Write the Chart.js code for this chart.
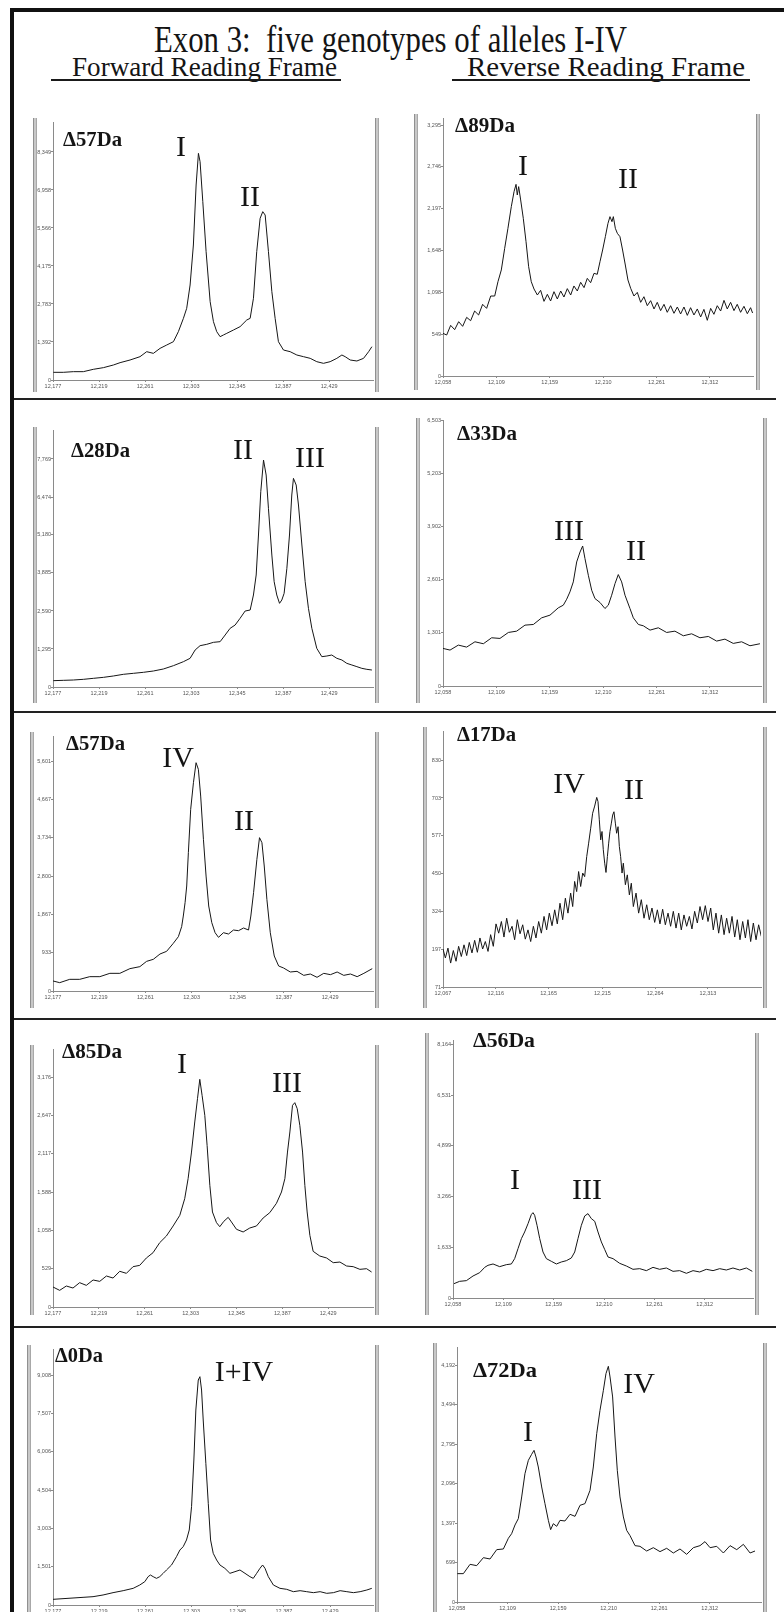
<!DOCTYPE html>
<html><head><meta charset="utf-8">
<script src="https://cdn.jsdelivr.net/npm/chart.js@4/dist/chart.umd.min.js"></script>
<style>
html,body{margin:0;padding:0;background:#fff;}
body{width:784px;height:1612px;position:relative;overflow:hidden;font-family:"Liberation Serif","Times New Roman",serif;}
#fig{position:absolute;left:0;top:0;width:784px;height:1612px;overflow:hidden;}
.txt{position:absolute;white-space:pre;line-height:1;color:#141414;transform-origin:0 0;}
.bar{position:absolute;width:2px;background:#c8c8c8;border-left:1px solid #909090;border-right:1px solid #a8a8a8;}
.sep{position:absolute;height:2px;background:#222;}
.uline{position:absolute;height:2px;background:#1a1a1a;}
canvas{position:absolute;}
#frame{position:absolute;left:10px;top:8px;width:800px;height:1640px;border:4px solid #111;box-sizing:border-box;}
</style></head><body><div id="fig"><div id="frame"></div></div>
<script>
// ---------- tick values / labels ----------
const xTicksA = [12177,12219,12261,12303,12345,12387,12429];
const xLabelsA = ["12,177","12,219","12,261","12,303","12,345","12,387","12,429"];
const xTicksB = [12058,12108.8,12159.6,12210.4,12261.2,12312];
const xLabelsB = ["12,058","12,109","12,159","12,210","12,261","12,312"];
const xTicksC = [12067,12116,12165,12215,12264,12313];
const xLabelsC = ["12,067","12,116","12,165","12,215","12,264","12,313"];

const p1YTicks = [0,1391.5,2783,4174.5,5566,6957.5,8349];
const p1YLabels = ["0","1,392","2,783","4,175","5,566","6,958","8,349"];
const p2YTicks = [0,549,1098,1648,2197,2746,3295];
const p2YLabels = ["0","549","1,098","1,648","2,197","2,746","3,295"];
const p3YTicks = [0,1295,2590,3885,5180,6474,7769];
const p3YLabels = ["0","1,295","2,590","3,885","5,180","6,474","7,769"];
const p4YTicks = [0,1301,2601,3902,5203,6503];
const p4YLabels = ["0","1,301","2,601","3,902","5,203","6,503"];
const p5YTicks = [0,933,1867,2800,3734,4667,5601];
const p5YLabels = ["0","933","1,867","2,800","3,734","4,667","5,601"];
const p6YTicks = [71,197,324,450,577,703,830];
const p6YLabels = ["71","197","324","450","577","703","830"];
const p7YTicks = [0,529,1058,1588,2117,2647,3176];
const p7YLabels = ["0","529","1,058","1,588","2,117","2,647","3,176"];
const p8YTicks = [0,1633,3266,4899,6531,8164];
const p8YLabels = ["0","1,633","3,266","4,899","6,531","8,164"];
const p9YTicks = [0,1501,3003,4504,6006,7507,9008];
const p9YLabels = ["0","1,501","3,003","4,504","6,006","7,507","9,008"];
const p10YTicks = [0,699,1397,2096,2795,3494,4192];
const p10YLabels = ["0","699","1,397","2,096","2,795","3,494","4,192"];

// ---------- spectra (mass in Da, intensity) ----------
const p1Mass = [12177.3,12186.4,12195.6,12204.7,12213.8,12223.0,12232.1,12238.2,12247.3,12256.4,12262.5,12268.6,12274.7,12280.8,12286.9,12291.4,12296.0,12299.0,12302.1,12305.1,12307.6,12309.7,12311.2,12313.7,12316.7,12320.4,12323.4,12326.4,12329.5,12332.5,12335.6,12341.7,12347.7,12353.8,12356.9,12359.9,12362.9,12366.0,12368.4,12370.6,12373.6,12376.7,12379.7,12382.7,12387.3,12393.4,12399.5,12405.6,12411.7,12417.7,12423.8,12429.9,12436.0,12440.6,12443.6,12448.2,12454.3,12460.4,12465.0,12468.0];
const p1Int = [281,281,305,305,391,452,549,635,732,854,1037,976,1159,1282,1404,1770,2258,2624,3478,4943,7140,8299,7994,6530,4699,2868,2136,1770,1587,1648,1709,1831,1953,2197,2258,2990,4699,5919,6164,6041,4699,3234,2258,1404,1098,1037,915,854,793,671,610,671,793,915,854,732,696,793,1037,1220];

const p2Mass = [12058.0,12061.5,12065.3,12069.1,12072.9,12076.7,12080.5,12084.3,12088.1,12091.9,12095.7,12099.5,12103.4,12107.2,12110.3,12113.5,12116.7,12119.8,12123.0,12125.6,12127.5,12128.7,12130.0,12131.9,12134.4,12137.0,12139.5,12142.0,12144.6,12147.8,12150.9,12154.1,12157.3,12160.4,12163.6,12166.8,12170.0,12173.1,12176.3,12179.5,12182.6,12185.8,12189.0,12192.2,12195.3,12198.5,12201.7,12204.8,12207.4,12209.9,12212.5,12215.0,12216.9,12218.8,12220.1,12222.0,12223.9,12226.4,12228.9,12231.5,12234.0,12236.6,12239.7,12242.9,12246.1,12249.2,12252.4,12255.6,12258.8,12261.9,12265.1,12268.3,12271.4,12274.6,12277.8,12281.0,12284.1,12287.3,12290.5,12293.6,12296.8,12300.0,12303.2,12306.3,12309.5,12312.7,12315.8,12319.0,12322.2,12325.4,12328.5,12331.7,12334.9,12338.0,12341.2,12344.4,12347.6,12350.7,12352.6];
const p2Int = [560,538,665,608,713,652,770,726,853,801,941,888,1050,1050,1238,1392,1676,1939,2223,2420,2516,2376,2486,2311,2070,1764,1435,1238,1142,1063,1125,980,1072,985,1107,1011,1116,1037,1147,1063,1182,1116,1230,1160,1282,1225,1348,1335,1501,1654,1829,2004,2092,2026,2092,1939,1873,1829,1654,1457,1260,1151,1050,1098,967,1041,923,989,880,967,858,941,836,923,823,906,814,906,796,897,801,880,775,875,731,888,810,923,853,993,880,967,858,941,836,915,818,897,827];

const p3Mass = [12177.3,12186.4,12195.6,12204.7,12213.8,12223.0,12232.1,12241.2,12250.4,12259.5,12268.6,12277.7,12286.9,12296.0,12302.1,12306.7,12311.2,12317.3,12323.4,12329.5,12334.1,12338.6,12343.2,12347.7,12352.3,12356.9,12359.9,12362.4,12364.5,12366.6,12369.1,12371.5,12373.6,12376.7,12378.8,12381.2,12383.7,12385.8,12387.9,12390.4,12392.8,12394.9,12396.4,12398.9,12401.0,12404.1,12407.1,12410.1,12413.2,12417.7,12422.3,12426.9,12431.4,12436.0,12440.6,12445.1,12449.7,12454.3,12458.8,12463.4,12468.0];
const p3Int = [216,227,238,261,295,329,375,432,466,500,545,613,727,863,977,1261,1408,1454,1522,1545,1772,1999,2112,2340,2589,2623,3135,3816,5179,6655,7734,7223,6087,4497,3589,3135,2851,2964,3191,4043,5179,6542,7109,6882,6201,4838,3589,2680,1999,1317,1033,1056,1090,977,920,806,750,693,636,602,579];

const p4Mass = [12058.0,12064.7,12072.6,12080.5,12088.4,12096.4,12104.3,12112.2,12120.2,12128.1,12136.0,12144.0,12151.9,12159.8,12167.7,12172.5,12175.7,12178.8,12182.0,12185.2,12188.4,12190.9,12193.1,12196.3,12199.5,12202.6,12207.4,12212.1,12215.3,12218.5,12221.7,12224.8,12228.0,12231.2,12235.9,12239.1,12243.9,12248.6,12255.0,12262.9,12270.8,12278.7,12286.7,12294.6,12302.5,12310.5,12318.4,12326.3,12334.2,12342.2,12350.1,12359.6];
const p4Int = [919,878,1000,951,1081,1033,1179,1163,1309,1341,1488,1504,1667,1732,1911,1976,2122,2301,2545,3033,3276,3423,3114,2707,2341,2138,2041,1894,1976,2219,2504,2724,2545,2219,1894,1667,1504,1472,1366,1423,1309,1341,1228,1276,1179,1211,1098,1146,1041,1081,984,1033];

const p5Mass = [12177.0,12183.1,12192.2,12201.3,12210.4,12219.6,12228.7,12237.8,12246.9,12256.0,12262.1,12268.2,12274.3,12280.3,12286.4,12291.0,12294.0,12295.5,12297.1,12298.6,12300.1,12302.2,12304.7,12307.1,12309.2,12311.3,12313.8,12316.2,12318.6,12321.4,12324.4,12327.5,12332.0,12336.6,12341.1,12345.7,12350.3,12354.8,12356.9,12359.4,12362.4,12364.8,12367.0,12369.1,12371.5,12374.6,12378.2,12382.2,12386.7,12392.8,12398.9,12405.0,12411.0,12417.1,12423.2,12429.3,12435.4,12441.4,12447.5,12453.6,12459.7,12467.3];
const p5Int = [244,203,284,284,349,349,430,430,544,593,722,771,901,966,1161,1323,1567,1826,2151,2557,3369,4424,5073,5560,5398,4748,3693,2800,2070,1664,1420,1307,1420,1388,1485,1469,1534,1485,1826,2395,3206,3734,3612,3044,2232,1420,852,609,560,463,479,381,414,333,430,398,463,381,414,349,430,544];

const p6Mass = [12067.0,12069.2,12071.6,12074.1,12076.6,12079.1,12081.5,12084.0,12086.5,12089.0,12091.4,12093.9,12096.4,12098.9,12101.3,12103.8,12106.3,12108.8,12111.2,12113.7,12116.2,12118.7,12121.2,12123.6,12126.1,12128.6,12131.1,12133.5,12136.0,12138.5,12141.0,12143.4,12145.9,12148.4,12150.9,12153.3,12155.8,12158.3,12160.8,12163.2,12165.7,12168.2,12170.7,12173.1,12175.6,12178.1,12180.6,12183.0,12185.5,12187.4,12189.2,12191.1,12192.9,12194.8,12196.7,12198.5,12200.4,12202.2,12204.1,12205.9,12207.8,12209.7,12210.9,12212.1,12213.4,12214.6,12215.8,12217.1,12218.3,12219.6,12220.8,12222.0,12223.3,12224.5,12225.7,12227.0,12228.2,12229.5,12230.7,12231.9,12233.2,12234.4,12236.3,12238.1,12240.0,12241.8,12243.7,12246.2,12248.6,12251.1,12253.6,12256.1,12258.5,12261.0,12263.5,12266.0,12268.4,12270.9,12273.4,12275.9,12278.3,12280.8,12283.3,12285.8,12288.2,12290.7,12293.2,12295.7,12298.1,12300.6,12303.1,12305.6,12308.0,12310.5,12313.0,12315.5,12317.9,12320.4,12322.9,12325.4,12327.9,12330.3,12332.8,12335.3,12337.8,12340.2,12342.7,12345.2,12347.7,12350.1,12352.6,12355.1,12357.6,12360.0,12362.5];
const p6Int = [198,168,201,151,193,157,207,173,212,176,220,185,227,187,235,198,223,190,246,207,282,251,290,238,301,254,274,229,296,249,279,231,262,223,274,235,290,251,307,262,318,276,329,282,351,296,368,318,385,340,424,390,457,407,452,440,507,552,602,652,676,705,691,630,563,591,530,485,454,507,552,591,619,646,657,619,585,607,541,507,452,485,413,446,379,418,340,385,318,363,301,346,296,335,287,329,282,331,279,318,274,324,268,318,262,312,274,307,265,324,285,340,296,343,290,335,262,318,251,312,246,301,251,307,238,296,229,290,235,296,223,285,229,279,240];

const p7Mass = [12177.0,12183.1,12189.2,12195.3,12201.4,12207.5,12213.7,12219.8,12225.9,12232.0,12238.1,12244.2,12250.3,12256.4,12262.5,12268.6,12274.7,12280.8,12287.0,12293.1,12297.6,12300.7,12303.8,12306.8,12309.3,12311.4,12313.5,12316.0,12318.1,12320.6,12323.0,12326.7,12329.7,12333.4,12337.4,12340.4,12345.0,12351.1,12357.2,12363.3,12369.4,12375.5,12381.6,12386.2,12389.3,12391.7,12393.9,12396.3,12398.4,12400.6,12403.0,12405.5,12407.6,12409.7,12412.2,12415.2,12421.3,12427.5,12433.6,12439.7,12445.8,12451.9,12458.0,12464.1,12468.7];
const p7Int = [276,230,290,262,336,299,373,354,428,400,493,465,557,575,677,750,888,980,1119,1266,1496,1772,2140,2555,2877,3144,2923,2647,2232,1680,1312,1165,1109,1183,1238,1174,1073,1036,1091,1119,1229,1303,1432,1588,1772,2140,2417,2785,2822,2739,2509,2140,1680,1312,990,769,704,677,612,621,566,557,520,529,483];

const p8Mass = [12059.0,12064.7,12071.5,12078.2,12084.9,12090.0,12093.3,12098.4,12105.1,12111.8,12116.9,12120.2,12123.6,12127.0,12130.3,12133.7,12137.0,12138.7,12140.4,12142.8,12145.5,12148.8,12152.2,12157.2,12162.3,12167.3,12172.4,12177.4,12180.8,12184.1,12187.5,12190.9,12194.2,12197.6,12201.0,12204.3,12207.7,12211.0,12214.4,12219.5,12226.2,12232.9,12239.6,12246.4,12253.1,12259.8,12266.5,12273.3,12280.0,12286.7,12293.5,12300.2,12306.9,12313.6,12320.4,12327.1,12333.8,12340.5,12347.3,12354.0,12360.0];
const p8Int = [462,537,559,709,816,988,1053,1096,1010,1074,1096,1268,1590,1912,2127,2395,2686,2750,2664,2342,1912,1482,1268,1182,1096,1160,1203,1289,1482,1912,2342,2643,2718,2557,2471,2127,1805,1568,1321,1268,1117,1031,924,945,881,988,924,967,859,881,795,881,838,924,881,945,902,967,902,967,859];

const p9Mass = [12177.0,12186.1,12195.2,12204.3,12213.4,12222.5,12231.6,12240.8,12249.9,12255.9,12260.5,12263.5,12265.6,12268.1,12271.1,12274.1,12277.2,12280.2,12284.8,12289.3,12292.4,12295.4,12298.4,12300.9,12303.0,12305.1,12306.9,12309.1,12310.6,12312.1,12313.6,12316.0,12318.2,12320.3,12322.7,12325.8,12328.8,12333.3,12337.9,12342.5,12347.0,12351.6,12356.1,12359.1,12362.2,12365.2,12367.6,12369.8,12372.8,12377.4,12383.4,12389.5,12395.6,12401.7,12407.7,12413.8,12419.9,12425.9,12432.0,12438.1,12444.2,12450.2,12456.3,12462.4,12466.9];
const p9Int = [222,248,274,300,326,392,483,561,653,783,914,1110,1175,1110,1044,1110,1240,1371,1567,1893,2154,2285,2546,2937,3851,5679,7637,8812,8943,8420,7246,5548,3982,2546,2024,1762,1567,1436,1240,1306,1371,1240,1110,1044,1240,1436,1567,1436,1110,783,653,614,522,561,522,483,522,457,483,561,522,483,522,587,653];

const p10Mass = [12058.3,12064.4,12071.1,12077.8,12084.5,12091.2,12097.9,12104.6,12109.6,12112.9,12116.3,12119.6,12123.0,12126.3,12129.7,12133.0,12135.4,12137.4,12139.7,12143.1,12146.4,12149.8,12152.1,12154.8,12158.2,12161.5,12166.5,12171.6,12176.6,12181.6,12186.6,12191.7,12195.0,12198.4,12201.7,12205.1,12207.7,12210.1,12211.8,12214.4,12216.8,12219.1,12221.8,12225.2,12228.5,12231.9,12236.9,12241.9,12248.6,12255.3,12262.0,12268.7,12275.4,12282.1,12288.8,12295.5,12302.2,12307.2,12312.3,12319.0,12325.7,12332.4,12339.1,12345.8,12352.5,12357.5];
const p10Int = [502,502,667,644,785,762,927,939,1128,1210,1364,1476,1860,2273,2509,2615,2686,2568,2391,2037,1742,1446,1281,1387,1340,1446,1435,1553,1517,1712,1742,1978,2391,2982,3395,3749,4044,4174,3985,3631,2922,2332,1860,1506,1269,1175,998,986,903,962,892,951,868,939,844,962,998,1069,962,986,868,998,927,1021,868,903];

// ---------- panel texts ----------
const deltaLabels = ["\u039457Da","\u039489Da","\u039428Da","\u039433Da","\u039457Da","\u039417Da","\u039485Da","\u039456Da","\u03940Da","\u039472Da"];
const alleleLabels = [["I","II"],["I","II"],["II","III"],["III","II"],["IV","II"],["IV","II"],["I","III"],["I","III"],["I+IV"],["I","IV"]];

// ---------- layout (pixels) ----------
const series = [
 {mass:p1Mass,inten:p1Int,xt:xTicksA,xl:xLabelsA,yt:p1YTicks,yl:p1YLabels},
 {mass:p2Mass,inten:p2Int,xt:xTicksB,xl:xLabelsB,yt:p2YTicks,yl:p2YLabels},
 {mass:p3Mass,inten:p3Int,xt:xTicksA,xl:xLabelsA,yt:p3YTicks,yl:p3YLabels},
 {mass:p4Mass,inten:p4Int,xt:xTicksB,xl:xLabelsB,yt:p4YTicks,yl:p4YLabels},
 {mass:p5Mass,inten:p5Int,xt:xTicksA,xl:xLabelsA,yt:p5YTicks,yl:p5YLabels},
 {mass:p6Mass,inten:p6Int,xt:xTicksC,xl:xLabelsC,yt:p6YTicks,yl:p6YLabels},
 {mass:p7Mass,inten:p7Int,xt:xTicksA,xl:xLabelsA,yt:p7YTicks,yl:p7YLabels},
 {mass:p8Mass,inten:p8Int,xt:xTicksB,xl:xLabelsB,yt:p8YTicks,yl:p8YLabels},
 {mass:p9Mass,inten:p9Int,xt:xTicksA,xl:xLabelsA,yt:p9YTicks,yl:p9YLabels},
 {mass:p10Mass,inten:p10Int,xt:xTicksB,xl:xLabelsB,yt:p10YTicks,yl:p10YLabels}
];
const layout = [
 {barL:33, barR:375, barT:118, barB:392, cl:35, ct:114, cw:340, ch:278, L:53, T:122, R:373, B:380, xmin:12177, xmax:12469, ymin:0, ymax:9447},
 {barL:414,barR:756, barT:114, barB:390, cl:416,ct:110, cw:340, ch:280, L:443,T:118, R:753, B:376, xmin:12058, xmax:12353, ymin:0, ymax:3387},
 {barL:33, barR:375, barT:427, barB:703, cl:35, ct:423, cw:340, ch:280, L:53, T:430, R:373, B:687, xmin:12177, xmax:12469, ymin:0, ymax:8757},
 {barL:416,barR:763, barT:418, barB:703, cl:418,ct:414, cw:345, ch:289, L:443,T:420, R:761, B:686, xmin:12058, xmax:12360.6, ymin:0, ymax:6503},
 {barL:30, barR:375, barT:732, barB:1008,cl:32, ct:728, cw:343, ch:280, L:53, T:736, R:373, B:991, xmin:12177, xmax:12468, ymin:0, ymax:6210},
 {barL:423,barR:763, barT:727, barB:1008,cl:425,ct:723, cw:338, ch:285, L:443,T:731, R:761, B:987, xmin:12067, xmax:12362.2, ymin:71, ymax:927},
 {barL:30, barR:375, barT:1045,barB:1315,cl:32, ct:1041,cw:343, ch:279, L:53, T:1049,R:373, B:1307,xmin:12177, xmax:12470, ymin:0, ymax:3563},
 {barL:425,barR:755, barT:1033,barB:1315,cl:427,ct:1029,cw:328, ch:291, L:453,T:1040,R:753, B:1298,xmin:12058, xmax:12360.7, ymin:0, ymax:8312},
 {barL:27, barR:375, barT:1345,barB:1640,cl:29, ct:1341,cw:346, ch:280, L:53, T:1349,R:373, B:1605,xmin:12177, xmax:12468, ymin:0, ymax:10027},
 {barL:433,barR:763, barT:1343,barB:1640,cl:435,ct:1339,cw:328, ch:280, L:457,T:1347,R:761, B:1602,xmin:12058, xmax:12363.5, ymin:0, ymax:4516}
];
// delta label: left, right, baseline ; allele labels: [centerX, baseline]
const deltaPos = [[63,122,146],[455,515,132],[71,130,457],[457,517,440],[66,125,750],[457,516,741],[62,122,1058],[473,535,1047],[55,103,1362],[473,537,1377]];
const allelePos = [[[181,156],[250,206]],[[523,175],[628,188]],[[243,459],[310,467]],[[569,540],[636,560]],[[178,767],[244,830]],[[569,793],[634,799]],[[182,1073],[287,1092]],[[515,1189],[587,1199]],[[244,1381]],[[528,1441],[639,1393]]];

const fig = document.getElementById('fig');
const mctx = document.createElement('canvas').getContext('2d');
function addText(str, size, bold, baseline, opts) {
  const d = document.createElement('div');
  d.className = 'txt';
  const font = (bold ? 'bold ' : '') + size + 'px "Liberation Serif"';
  d.style.font = font; d.style.lineHeight = '1';
  d.textContent = str;
  mctx.font = font;
  const w = mctx.measureText(str).width;
  let sx = 1, left;
  if (opts.right !== undefined) { sx = (opts.right - opts.left) / w; left = opts.left; }
  else { left = opts.cx - w / 2; }
  d.style.left = left + 'px';
  d.style.top = (baseline - 0.8375 * size) + 'px';
  if (sx !== 1) d.style.transform = 'scaleX(' + sx.toFixed(4) + ')';
  fig.appendChild(d);
}
function addDiv(cls, l, t, w, h) {
  const d = document.createElement('div'); d.className = cls;
  d.style.left = l + 'px'; d.style.top = t + 'px';
  if (w !== null) d.style.width = w + 'px';
  d.style.height = h + 'px';
  fig.appendChild(d);
}

function drawPanel(s, g) {
  addDiv('bar', g.barL, g.barT, null, g.barB - g.barT);
  addDiv('bar', g.barR, g.barT, null, g.barB - g.barT);
  const cv = document.createElement('canvas');
  cv.width = g.cw; cv.height = g.ch;
  cv.style.left = g.cl + 'px'; cv.style.top = g.ct + 'px';
  cv.style.width = g.cw + 'px'; cv.style.height = g.ch + 'px';
  fig.appendChild(cv);
  const yW = g.L - g.cl, xH = g.ct + g.ch - g.B, padT = g.T - g.ct, padR = g.cl + g.cw - g.R;
  const tickFont = {size: 5.5, family: '"Liberation Sans", Arial, sans-serif'};
  new Chart(cv.getContext('2d'), {
    type: 'line',
    data: {datasets: [{data: s.mass.map((m, i) => ({x: m, y: s.inten[i]})),
      borderColor: '#161616', borderWidth: 1, pointRadius: 0, tension: 0, fill: false}]},
    options: {
      responsive: false, maintainAspectRatio: false, animation: false, devicePixelRatio: 1,
      layout: {padding: {left: 0, top: padT, right: padR, bottom: 0}},
      plugins: {legend: {display: false}, tooltip: {enabled: false}, title: {display: false}},
      scales: {
        x: {type: 'linear', min: g.xmin, max: g.xmax,
          afterBuildTicks: sc => { sc.ticks = s.xt.map(v => ({value: v})); },
          afterFit: sc => { sc.height = xH; },
          ticks: {autoSkip: false, maxRotation: 0, minRotation: 0, padding: 1, color: '#555', font: tickFont,
                  callback: (v, i) => s.xl[i]},
          grid: {drawOnChartArea: false, drawTicks: true, tickLength: 2, color: '#8a8a8a'},
          border: {display: true, color: '#8a8a8a', width: 1}},
        y: {type: 'linear', min: g.ymin, max: g.ymax,
          afterBuildTicks: sc => { sc.ticks = s.yt.map(v => ({value: v})); },
          afterFit: sc => { sc.width = yW; },
          ticks: {padding: 0, color: '#555', font: tickFont, callback: (v, i) => s.yl[i]},
          grid: {drawOnChartArea: false, drawTicks: true, tickLength: 2, color: '#8a8a8a'},
          border: {display: true, color: '#8a8a8a', width: 1}}
      }
    }
  });
}

series.forEach((s, i) => drawPanel(s, layout[i]));

// separators
[398, 711, 1018, 1326].forEach(y => addDiv('sep', 14, y, 762, 2));

// headings
addText("Exon 3:  five genotypes of alleles I-IV", 38, false, 52, {left: 154, right: 627});
addText("Forward Reading Frame", 27, false, 77, {left: 72, right: 337});
addText("Reverse Reading Frame", 27, false, 77, {left: 467, right: 745});
addDiv('uline', 51, 79, 290, 2);
addDiv('uline', 452, 79, 298, 2);

// panel labels
deltaLabels.forEach((t, i) => {
  const p = deltaPos[i];
  addText(t, 22, true, p[2], {left: p[0], right: p[1]});
});
alleleLabels.forEach((arr, i) => {
  arr.forEach((t, j) => {
    const p = allelePos[i][j];
    addText(t, 30, false, p[1], {cx: p[0]});
  });
});
</script>
</body></html>
